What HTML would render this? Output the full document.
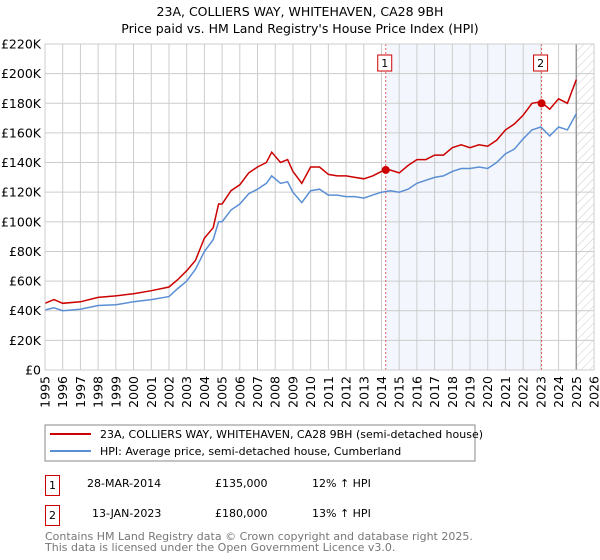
<!DOCTYPE html>
<html><head><meta charset="utf-8"><style>
body{margin:0;background:#fff;font-family:"DejaVu Sans","Liberation Sans",sans-serif;}
svg{display:block}
</style></head><body>
<svg id="c" width="600" height="560" xmlns="http://www.w3.org/2000/svg" font-family="DejaVu Sans, Liberation Sans, sans-serif">
<text x="300" y="16" text-anchor="middle" font-size="12.5" fill="#000">23A, COLLIERS WAY, WHITEHAVEN, CA28 9BH</text>
<text x="300" y="33" text-anchor="middle" font-size="12.5" fill="#000">Price paid vs. HM Land Registry's House Price Index (HPI)</text>
<defs><pattern id="hatch" width="6" height="6" patternUnits="userSpaceOnUse" patternTransform="rotate(45)"><line x1="0" y1="0" x2="0" y2="6" stroke="#ccc" stroke-width="1"/></pattern></defs>
<g id="plot"></g>
<rect x="45" y="425" width="430" height="36" fill="#fff" stroke="#888"/>
<line x1="50" y1="434" x2="91" y2="434" stroke="#cc0000" stroke-width="2"/>
<text x="100" y="438" font-size="11">23A, COLLIERS WAY, WHITEHAVEN, CA28 9BH (semi-detached house)</text>
<line x1="50" y1="451" x2="91" y2="451" stroke="#5b8fd4" stroke-width="2"/>
<text x="100" y="455" font-size="11">HPI: Average price, semi-detached house, Cumberland</text>
<g font-size="11">
<rect x="45.5" y="475.5" width="14" height="20" fill="#fff" stroke="#cc0000"/>
<text x="52.5" y="489" text-anchor="middle">1</text>
<text x="87" y="487">28-MAR-2014</text><text x="215" y="487">£135,000</text><text x="312" y="487">12% ↑ HPI</text>
<rect x="45.5" y="505.5" width="14" height="20" fill="#fff" stroke="#cc0000"/>
<text x="52.5" y="519" text-anchor="middle">2</text>
<text x="92" y="517">13-JAN-2023</text><text x="215" y="517">£180,000</text><text x="312" y="517">13% ↑ HPI</text>
</g>
<text x="45" y="540" font-size="11" fill="#777">Contains HM Land Registry data © Crown copyright and database right 2025.</text>
<text x="45" y="551" font-size="11" fill="#777">This data is licensed under the Open Government Licence v3.0.</text>
</svg>
<script>
const years=[1995,1995.5,1996,1997,1998,1999,2000,2001,2002,2002.5,2003,2003.5,2004,2004.5,2004.8,2005,2005.5,2006,2006.5,2007,2007.5,2007.8,2008.3,2008.7,2009,2009.5,2010,2010.5,2011,2011.5,2012,2012.5,2013,2013.5,2014,2014.5,2015,2015.5,2016,2016.5,2017,2017.5,2018,2018.5,2019,2019.5,2020,2020.5,2021,2021.5,2022,2022.5,2023,2023.5,2024,2024.5,2025];
const hpi=[40.5,42,40,41,43.5,44,46,47.5,49.5,55,60,68,80,88,100,100,108,112,119,122,126,131,126,127,120,113,121,122,118,118,117,117,116,118,120,121,120,122,126,128,130,131,134,136,136,137,136,140,146,149,156,162,164,158,164,162,173];
const price=[45,47.5,45,46,49,50,51.5,53.5,56,61,67,74,89,96,112,112,121,125,133,137,140,147,140,142,134,126,137,137,132,131,131,130,129,131,134,135,133,138,142,142,145,145,150,152,150,152,151,155,162,166,172,180,181,176,183,180,196];
const yTicks=[0,20,40,60,80,100,120,140,160,180,200,220];
const xTicks=[1995,1996,1997,1998,1999,2000,2001,2002,2003,2004,2005,2006,2007,2008,2009,2010,2011,2012,2013,2014,2015,2016,2017,2018,2019,2020,2021,2022,2023,2024,2025,2026];
const sales=[{label:"1",t:2014.24,v:135},{label:"2",t:2023.04,v:180}];
const X0=45,X1=594,Y0=370,Y1=44;
const x=t=>X0+(t-1995)/(2026-1995)*(X1-X0);
const y=v=>Y0-v/220*(Y0-Y1);
const NS="http://www.w3.org/2000/svg";
const g=document.getElementById('plot');
function mk(tag,a,parent){const e=document.createElementNS(NS,tag);for(const k in a)e.setAttribute(k,a[k]);(parent||g).appendChild(e);return e;}
let r=mk('rect',{x:x(sales[0].t),y:Y1,width:x(sales[1].t)-x(sales[0].t),height:Y0-Y1,fill:'#eef3fc',opacity:0.7});


r=mk('rect',{x:x(2025),y:Y1,width:X1-x(2025),height:Y0-Y1,fill:'url(#hatch)'});


yTicks.forEach(v=>{
 const l=mk('line',{x1:X0,x2:X1,y1:y(v),y2:y(v),stroke:'#ccc'});
 
 
 const t=mk('text',{x:X0-4,y:y(v)+4.5,'text-anchor':'end','font-size':12.5});
 t.textContent=v===0?'£0':'£'+v+'K';
 
 
});
xTicks.forEach(yr=>{
 const l=mk('line',{x1:x(yr),x2:x(yr),y1:Y1,y2:Y0,stroke:'#ccc'});
 
 
 const t=mk('text',{transform:`translate(${x(yr)+4.5},${Y0+6}) rotate(-90)`,'text-anchor':'end','font-size':12.5});
 t.textContent=yr;
 
 
});
let b=mk('line',{x1:x(2025),x2:x(2025),y1:Y1,y2:Y0,stroke:'#999','stroke-width':1.5});


sales.forEach(s=>{
 const l=mk('line',{x1:x(s.t),x2:x(s.t),y1:Y1,y2:Y0,stroke:'#e06060','stroke-dasharray':'2,2'});
 
 
});
const pts=arr=>years.map((t,i)=>x(t).toFixed(1)+','+y(arr[i]).toFixed(1)).join(' ');
let p=mk('polyline',{points:pts(hpi),fill:'none',stroke:'#5b8fd4','stroke-width':1.5});


p=mk('polyline',{points:pts(price),fill:'none',stroke:'#cc0000','stroke-width':1.5});


sales.forEach(s=>{
 const c=mk('circle',{cx:x(s.t),cy:y(s.v),r:4,fill:'#cc0000'});
 
 
 const bx=mk('rect',{x:x(s.t)-8,y:55,width:14,height:16,fill:'#fff',stroke:'#cc0000'});
 
 
 const t=mk('text',{x:x(s.t)-1,y:67,'text-anchor':'middle','font-size':11});
 t.textContent=s.label;
 
 
});
let ax=mk('rect',{x:X0,y:Y1,width:X1-X0,height:Y0-Y1,fill:'none',stroke:'#ccc'});


</script>
</body></html>
